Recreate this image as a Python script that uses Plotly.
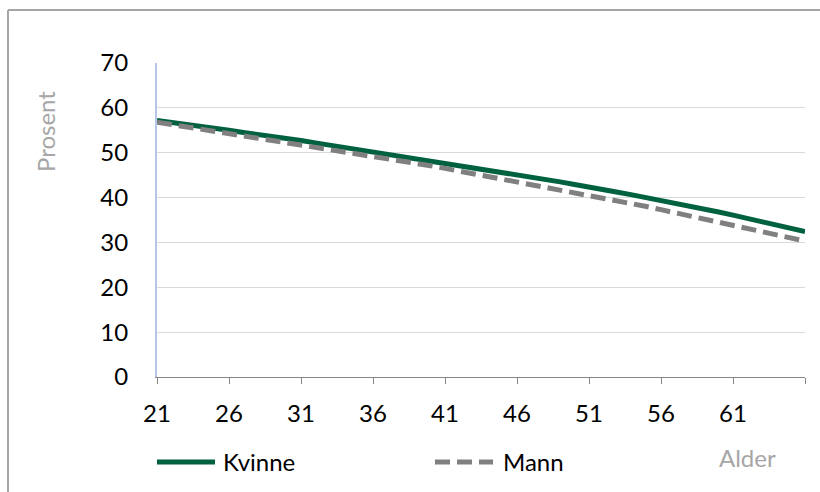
import plotly.graph_objects as go

# ---- data ----
ages = list(range(21, 67))
kvinne = [57.2, 56.8, 56.3, 55.9, 55.4, 55.0, 54.5, 54.1, 53.6, 53.2,
          52.7, 52.2, 51.7, 51.2, 50.7, 50.2, 49.7, 49.2, 48.7, 48.2,
          47.7, 47.2, 46.7, 46.2, 45.7, 45.1, 44.6, 44.0, 43.5, 42.9,
          42.4, 41.8, 41.2, 40.6, 40.0, 39.4, 38.8, 38.1, 37.5, 36.8,
          36.1, 35.4, 34.7, 34.0, 33.2, 32.4]
mann = [56.8, 56.3, 55.8, 55.3, 54.8, 54.3, 53.8, 53.3, 52.8, 52.3,
        51.8, 51.3, 50.8, 50.3, 49.8, 49.3, 48.7, 48.2, 47.6, 47.1,
        46.5, 45.9, 45.4, 44.8, 44.2, 43.6, 43.0, 42.4, 41.8, 41.2,
        40.6, 40.0, 39.3, 38.7, 38.0, 37.3, 36.6, 35.9, 35.2, 34.5,
        33.8, 33.1, 32.4, 31.7, 31.0, 30.3]
x_ticks = [21, 26, 31, 36, 41, 46, 51, 56, 61, 66]
x_ticklabels = ["21", "26", "31", "36", "41", "46", "51", "56", "61", ""]
y_ticks = [0, 10, 20, 30, 40, 50, 60, 70]
series_names = ["Kvinne", "Mann"]

W, H = 820, 492
L, R, T, B = 157, 15, 63, 115
PW, PH = W - L - R, H - T - B


def px(x):
    return (x - L) / PW


def py(y):
    return (H - B - y) / PH


GREEN = "#00613e"
GREY = "#808080"
FONT = "Lato"

fig = go.Figure()
fig.add_trace(go.Scatter(x=ages, y=kvinne, name=series_names[0], mode="lines",
                         line=dict(color=GREEN, width=5), showlegend=False))
fig.add_trace(go.Scatter(x=ages, y=mann, name=series_names[1], mode="lines",
                         line=dict(color=GREY, width=5, dash="15px,7px"), showlegend=False))

shapes = [
    # outer chart border (left and top)
    dict(type="line", xref="paper", yref="paper", x0=px(8), x1=px(8), y0=py(10), y1=py(500),
         line=dict(color="#a6a6a6", width=2)),
    dict(type="line", xref="paper", yref="paper", x0=px(8), x1=px(830), y0=py(10), y1=py(10),
         line=dict(color="#a6a6a6", width=2)),
    # custom legend lines
    dict(type="line", xref="paper", yref="paper", x0=px(157), x1=px(215), y0=py(462), y1=py(462),
         line=dict(color=GREEN, width=5)),
    dict(type="line", xref="paper", yref="paper", x0=px(435), x1=px(493), y0=py(462), y1=py(462),
         line=dict(color=GREY, width=5, dash="15px,7px")),
]

annotations = [
    dict(text=series_names[0], xref="paper", yref="paper", x=px(221), y=py(461),
         xanchor="left", yanchor="middle", showarrow=False,
         font=dict(family=FONT, size=24, color="#000000")),
    dict(text=series_names[1], xref="paper", yref="paper", x=px(501), y=py(461),
         xanchor="left", yanchor="middle", showarrow=False,
         font=dict(family=FONT, size=24, color="#000000")),
    dict(text="Prosent", xref="paper", yref="paper", x=px(45), y=py(132),
         xanchor="center", yanchor="middle", textangle=-90, showarrow=False,
         font=dict(family=FONT, size=24, color="#a6a6a6")),
    dict(text="Alder", xref="paper", yref="paper", x=px(747), y=py(457),
         xanchor="center", yanchor="middle", showarrow=False,
         font=dict(family=FONT, size=24, color="#a6a6a6")),
]

fig.update_layout(
    width=W, height=H,
    margin=dict(l=L, r=R, t=T, b=B, pad=0),
    paper_bgcolor="white", plot_bgcolor="white",
    font=dict(family=FONT, size=24, color="#000000"),
    shapes=shapes, annotations=annotations,
    showlegend=False,
)
fig.update_xaxes(
    range=[21, 66], tickmode="array", tickvals=x_ticks, ticktext=x_ticklabels,
    showgrid=False, zeroline=False, showline=True, linecolor="#868686", linewidth=1,
    ticks="outside", ticklen=6, tickcolor="#868686", tickwidth=1,
    ticklabelstandoff=9, tickfont=dict(family=FONT, size=24, color="#000000"),
)
fig.update_yaxes(
    range=[0, 70], tickmode="array", tickvals=y_ticks,
    showgrid=True, gridcolor="#d9d9d9", gridwidth=1, zeroline=False,
    showline=True, linecolor="#b4c7e7", linewidth=2, ticks="",
    ticklabelstandoff=22, tickfont=dict(family=FONT, size=24, color="#000000"),
)

fig.write_html("out.html")
